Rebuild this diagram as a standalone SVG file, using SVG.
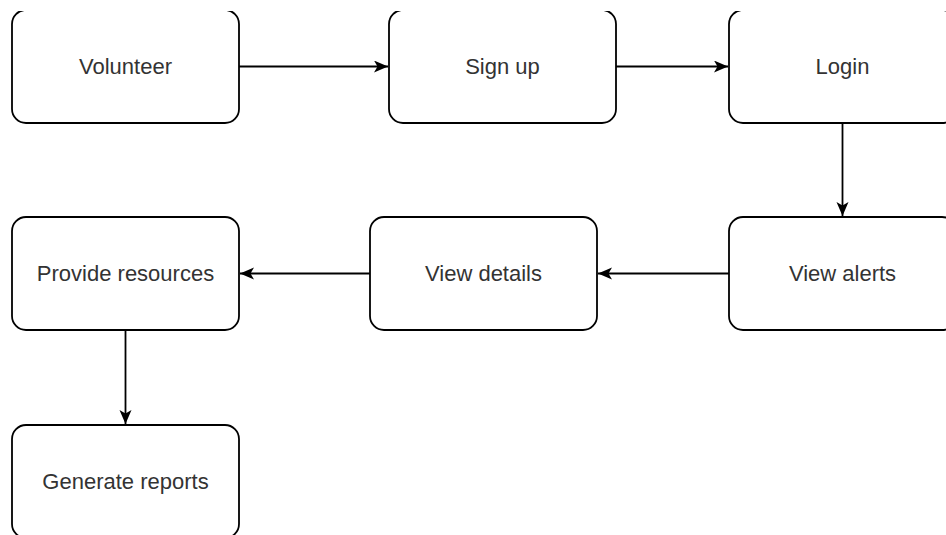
<svg xmlns="http://www.w3.org/2000/svg" width="946" height="535" viewBox="0 0 946 535">
<style>
.box{fill:#ffffff;stroke:#000000;stroke-width:1.8}
.lbl{font-family:"Liberation Sans",Arial,Helvetica,sans-serif;font-size:22px;fill:#333333;text-anchor:middle}
.edge{fill:none;stroke:#000000;stroke-width:1.8}
</style>
<defs>
<marker id="arr" markerUnits="userSpaceOnUse" markerWidth="16" markerHeight="14" refX="14" refY="6" orient="auto">
<path d="M0,0 L14,6 L0,12 L3.5,6 z" fill="#000000" stroke="none"/>
</marker>
<clipPath id="topclip"><rect x="0" y="11" width="946" height="600"/></clipPath>
</defs>
<rect width="946" height="535" fill="#ffffff"/>
<g id="connectors">
<path class="edge" d="M239,66.5 L388,66.5" marker-end="url(#arr)"/>
<path class="edge" d="M616,66.5 L728,66.5" marker-end="url(#arr)"/>
<path class="edge" d="M842.5,123 L842.5,216" marker-end="url(#arr)"/>
<path class="edge" d="M729,273.5 L598,273.5" marker-end="url(#arr)"/>
<path class="edge" d="M370,273.5 L240,273.5" marker-end="url(#arr)"/>
<path class="edge" d="M125.5,330 L125.5,424" marker-end="url(#arr)"/>
</g>
<g clip-path="url(#topclip)">
<g id="volunteer"><rect class="box" x="12" y="10" width="227" height="113" rx="14"/><text class="lbl" x="125.5" y="74">Volunteer</text></g>
<g id="signup"><rect class="box" x="389" y="10" width="227" height="113" rx="14"/><text class="lbl" x="502.5" y="74">Sign up</text></g>
<g id="login"><rect class="box" x="729" y="10" width="227" height="113" rx="14"/><text class="lbl" x="842.5" y="74">Login</text></g>
</g>
<g id="provide"><rect class="box" x="12" y="217" width="227" height="113" rx="14"/><text class="lbl" x="125.5" y="281">Provide resources</text></g>
<g id="details"><rect class="box" x="370" y="217" width="227" height="113" rx="14"/><text class="lbl" x="483.5" y="281">View details</text></g>
<g id="alerts"><rect class="box" x="729" y="217" width="227" height="113" rx="14"/><text class="lbl" x="842.5" y="281">View alerts</text></g>
<g id="reports"><rect class="box" x="12" y="425" width="227" height="113" rx="14"/><text class="lbl" x="125.5" y="489">Generate reports</text></g>
</svg>
